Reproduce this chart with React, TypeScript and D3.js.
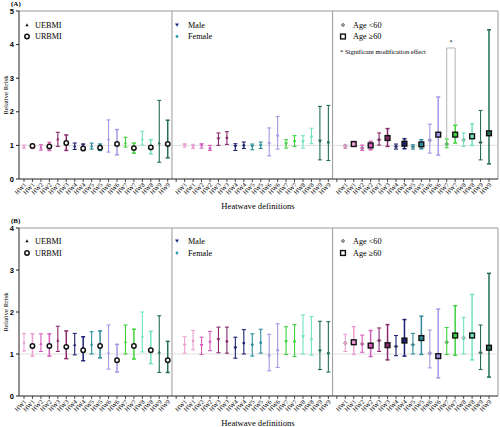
import React from "react";
import * as d3 from "d3";

// ---------- data ----------
const definitions = ["HW1", "HW2", "HW3", "HW4", "HW5", "HW6", "HW7", "HW8", "HW9"];
const hwColors = ["#eca0d2", "#d65fbe", "#8a2a6c", "#1d2270", "#2f8b9b", "#a597e4", "#3fd23f", "#72e2c2", "#236f50"];

// [estimate, lower, upper]
const aUEBMI = [[0.96,0.92,1.01],[0.94,0.86,1.02],[1.19,0.97,1.39],[0.98,0.88,1.07],[0.98,0.89,1.07],[1.19,0.80,1.76],[1.07,0.95,1.24],[1.19,1.01,1.42],[1.07,0.50,2.34]];
const aURBMI = [[0.98,0.91,1.05],[0.97,0.85,1.09],[1.07,0.85,1.31],[0.91,0.85,1.04],[0.93,0.85,1.04],[1.04,0.72,1.47],[0.92,0.77,1.07],[0.94,0.75,1.17],[1.04,0.63,1.75]];
const aMale = [[1.00,0.95,1.05],[0.99,0.92,1.05],[1.19,1.00,1.37],[0.97,0.85,1.05],[0.97,0.87,1.04],[1.05,0.69,1.52],[1.04,0.92,1.17],[1.11,0.92,1.29],[1.12,0.57,2.16]];
const aFemale = [[0.97,0.91,1.03],[0.91,0.85,1.00],[1.22,1.03,1.41],[1.00,0.91,1.10],[1.01,0.91,1.10],[1.29,0.89,1.86],[1.13,0.97,1.29],[1.26,1.05,1.51],[1.09,0.55,2.19]];
const aAgeUnder60 = [[0.97,0.91,1.03],[0.92,0.85,1.01],[1.17,1.01,1.37],[0.97,0.89,1.04],[0.96,0.89,1.02],[1.15,0.77,1.63],[1.04,0.93,1.19],[1.16,0.97,1.37],[1.09,0.57,2.04]];
const aAge60Plus = [[1.04,0.97,1.12],[1.00,0.87,1.12],[1.22,0.97,1.50],[1.05,0.90,1.20],[1.03,0.90,1.17],[1.32,0.71,2.44],[1.32,1.07,1.60],[1.27,1.00,1.64],[1.36,0.45,4.44]];

const bUEBMI = [[1.27,1.07,1.49],[1.24,1.06,1.48],[1.32,1.06,1.66],[1.22,0.98,1.49],[1.23,1.00,1.53],[1.04,0.64,1.69],[1.29,1.00,1.69],[1.42,1.05,2.00],[1.04,0.56,1.91]];
const bURBMI = [[1.19,0.95,1.48],[1.19,0.95,1.48],[1.17,0.89,1.55],[1.09,0.84,1.41],[1.19,0.91,1.55],[0.85,0.57,1.23],[1.19,0.88,1.59],[1.09,0.77,1.54],[0.85,0.56,1.30]];
const bMale = [[1.21,1.02,1.41],[1.20,0.99,1.40],[1.34,1.03,1.64],[1.14,0.90,1.40],[1.21,0.95,1.48],[0.95,0.60,1.47],[1.29,0.99,1.65],[1.41,1.00,1.93],[1.07,0.63,1.78]];
const bFemale = [[1.31,1.10,1.56],[1.29,1.08,1.54],[1.30,1.02,1.64],[1.26,1.00,1.58],[1.27,1.02,1.59],[1.09,0.68,1.72],[1.30,0.94,1.70],[1.35,0.97,1.89],[1.02,0.57,1.77]];
const bAgeUnder60 = [[1.26,1.06,1.47],[1.24,1.04,1.45],[1.32,1.06,1.62],[1.18,0.96,1.44],[1.22,1.00,1.49],[1.02,0.67,1.57],[1.28,0.99,1.63],[1.38,1.00,1.87],[1.03,0.63,1.69]];
const bAge60Plus = [[1.28,0.99,1.65],[1.20,0.94,1.56],[1.21,0.86,1.70],[1.32,0.95,1.82],[1.38,0.99,1.90],[0.95,0.43,2.07],[1.44,0.97,2.15],[1.44,0.86,2.42],[1.15,0.45,2.92]];

const yTicksA = [0, 1, 2, 3, 4, 5];
const yTicksB = [0, 1, 2, 3, 4];

type Triple = number[];
type Marker = "dot" | "ring" | "tri" | "down" | "diamond" | "square";

interface Group {
  series: { name: string; marker: Marker; values: Triple[] }[];
}

const groupsA: Group[] = [
  { series: [{ name: "UEBMI", marker: "tri", values: aUEBMI }, { name: "URBMI", marker: "ring", values: aURBMI }] },
  { series: [{ name: "Male", marker: "down", values: aMale }, { name: "Female", marker: "dot", values: aFemale }] },
  { series: [{ name: "Age <60", marker: "diamond", values: aAgeUnder60 }, { name: "Age ≥60", marker: "square", values: aAge60Plus }] },
];
const groupsB: Group[] = [
  { series: [{ name: "UEBMI", marker: "tri", values: bUEBMI }, { name: "URBMI", marker: "ring", values: bURBMI }] },
  { series: [{ name: "Male", marker: "down", values: bMale }, { name: "Female", marker: "dot", values: bFemale }] },
  { series: [{ name: "Age <60", marker: "diamond", values: bAgeUnder60 }, { name: "Age ≥60", marker: "square", values: bAge60Plus }] },
];

// ---------- layout ----------
const W = 500, H = 427;
const X0 = 19, X1 = 498;
const slot = d3.scaleLinear().domain([0, 55]).range([24, 489]);
const SERIF = "'Liberation Serif', 'Times New Roman', serif";
const SANS = "'Liberation Sans', Arial, sans-serif";

function MarkerShape({ type, x, y, color, legend }: { type: Marker; x: number; y: number; color: string; legend?: boolean }) {
  switch (type) {
    case "tri":
      return <path d={`M${x},${y - 1.8}L${x + 1.6},${y + 1.2}L${x - 1.6},${y + 1.2}Z`} fill={legend ? "#111" : color} />;
    case "ring":
      return <circle cx={x} cy={y} r={2.2} fill="#fff" stroke="#111" strokeWidth={1.5} />;
    case "down":
      return <path d={`M${x - 2},${y - 1.5}L${x + 2},${y - 1.5}L${x},${y + 1.8}Z`} fill={legend ? "#1d2a8a" : color} />;
    case "dot":
      return <circle cx={x} cy={y} r={1.4} fill={legend ? "#2a9bb0" : color} />;
    case "diamond":
      return <path d={`M${x},${y - 2}L${x + 2},${y}L${x},${y + 2}L${x - 2},${y}Z`} fill={legend ? "#999" : color} stroke={legend ? "#777" : "#888"} strokeWidth={0.6} />;
    case "square":
      return <rect x={x - 2.4} y={y - 2.4} width={4.8} height={4.8} fill={legend ? "#fff" : color} stroke="#111" strokeWidth={1.4} />;
  }
}

function Panel({ label, groups, yTicks, yMax, top, bottom, legendY, sig }: {
  label: string; groups: Group[]; yTicks: number[]; yMax: number; top: number; bottom: number; legendY: number[]; sig?: boolean;
}) {
  const y = d3.scaleLinear().domain([0, yMax]).range([bottom, top]);
  const dividers = [slot(17.5), slot(36.5)];
  const slots: number[] = [];
  for (let i = 0; i <= 55; i++) slots.push(i);
  const legendX = [[27, 35], [177, 188], [343, 353]];
  return (
    <g>
      <text x={11} y={top - 5} fontFamily={SERIF} fontWeight="bold" fontSize={7}>{label}</text>
      {/* frame */}
      <line x1={X0} x2={X1} y1={top} y2={top} stroke="#999" strokeWidth={1} />
      <line x1={X1} x2={X1} y1={top} y2={bottom} stroke="#999" strokeWidth={1} />
      {dividers.map((d, i) => (
        <line key={i} x1={d} x2={d} y1={top} y2={bottom} stroke="#999" strokeWidth={1} />
      ))}
      {/* reference line */}
      <line x1={X0} x2={X1} y1={y(1)} y2={y(1)} stroke="#d8d8d8" strokeWidth={0.8} />
      {/* y axis */}
      <line x1={X0} x2={X0} y1={top} y2={bottom} stroke="#222" strokeWidth={1} />
      {yTicks.map((t) => (
        <g key={t}>
          <line x1={X0 - 3} x2={X0} y1={y(t)} y2={y(t)} stroke="#222" strokeWidth={1} />
          <text x={X0 - 5} y={y(t)} dy="0.35em" textAnchor="end" fontFamily={SANS} fontWeight="bold" fontSize={7.5}>{t}</text>
        </g>
      ))}
      <text transform={`translate(8,${(top + bottom) / 2}) rotate(-90)`} textAnchor="middle" fontFamily={SERIF} fontSize={6.8}>Relative Rrisk</text>
      {/* x axis */}
      <line x1={X0} x2={X1} y1={bottom} y2={bottom} stroke="#222" strokeWidth={1} />
      {slots.map((i) => (
        <line key={i} x1={slot(i)} x2={slot(i)} y1={bottom} y2={bottom + 3} stroke="#222" strokeWidth={0.8} />
      ))}
      {groups.map((g, gi) =>
        definitions.map((def, hi) =>
          g.series.map((s, si) => {
            const xi = slot(gi * 19 + hi * 2 + si);
            return (
              <text key={`${gi}-${hi}-${si}`} transform={`translate(${xi + 1.5},${bottom + 5}) rotate(-45)`} textAnchor="end" dy="0.3em" fontFamily={SERIF} fontSize={6.3}>{def}</text>
            );
          })
        )
      )}
      <text x={258} y={bottom + 29.5} textAnchor="middle" fontFamily={SERIF} fontSize={8.6}>Heatwave definitions</text>
      {/* error bars */}
      {groups.map((g, gi) =>
        definitions.map((def, hi) =>
          g.series.map((s, si) => {
            const [est, lo, hi2] = s.values[hi];
            const xi = slot(gi * 19 + hi * 2 + si);
            const c = hwColors[hi];
            const sw = s.marker === "square" || s.marker === "ring" ? 1.5 : 1.1;
            return (
              <g key={`${gi}-${hi}-${si}`}>
                <line x1={xi} x2={xi} y1={y(lo)} y2={y(hi2)} stroke={c} strokeWidth={sw} />
                <line x1={xi - 2} x2={xi + 2} y1={y(lo)} y2={y(lo)} stroke={c} strokeWidth={sw} />
                <line x1={xi - 2} x2={xi + 2} y1={y(hi2)} y2={y(hi2)} stroke={c} strokeWidth={sw} />
                <MarkerShape type={s.marker} x={xi} y={y(est)} color={c} />
              </g>
            );
          })
        )
      )}
      {/* legends */}
      {groups.map((g, gi) =>
        g.series.map((s, si) => (
          <g key={`lg-${gi}-${si}`}>
            <MarkerShape type={s.marker} x={legendX[gi][0]} y={legendY[si]} color="#111" legend />
            <text x={legendX[gi][1]} y={legendY[si]} dy="0.35em" fontFamily={SERIF} fontSize={8.2}>{s.name}</text>
          </g>
        ))
      )}
      {sig && (
        <g>
          <text x={340} y={legendY[1] + 15.5} dy="0.35em" fontFamily={SERIF} fontSize={6.6}>* Significant modification effect</text>
          {(() => {
            const l = slot(38 + 12), r = slot(39 + 12);
            const t = top + 37;
            return (
              <g>
                <path d={`M${l},${y(groups[2].series[0].values[6][2]) - 1}V${t}H${r}V${y(groups[2].series[1].values[6][2]) - 1}`} fill="none" stroke="#aaa" strokeWidth={0.9} />
                <text x={(l + r) / 2} y={t - 4} textAnchor="middle" fontFamily={SERIF} fontSize={6}>*</text>
              </g>
            );
          })()}
        </g>
      )}
    </g>
  );
}

export default function App() {
  return (
    <svg width={W} height={H} style={{ position: "absolute", left: 0, top: 0, background: "#fff" }}>
      <rect width={W} height={H} fill="#fff" />
      <Panel label="(A)" groups={groupsA} yTicks={yTicksA} yMax={5} top={11} bottom={179} legendY={[25, 36.5]} sig />
      <Panel label="(B)" groups={groupsB} yTicks={yTicksB} yMax={4} top={228} bottom={396} legendY={[241, 253]} />
    </svg>
  );
}
